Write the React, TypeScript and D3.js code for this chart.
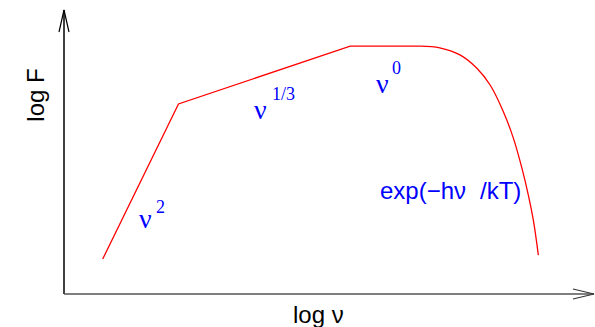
import React, { useEffect, useRef } from "react";
import * as d3 from "d3";

// broken power law spectrum (arbitrary log units 0..100)
const powerLawX = [7.3, 21.6, 54.0, 67.2];
const powerLawY = [12.3, 66.9, 87.3, 87.3];

// exponential cutoff
const cutoffX = [67.2, 70.9, 74.7, 77.9, 80.4, 82.9, 84.8, 86.4, 87.6, 88.6, 89.5];
const cutoffY = [87.3, 86.7, 84.2, 79.5, 73.6, 64.2, 54.8, 44.3, 34.9, 25.5, 13.7];

const axisLabels = ["log \u03bd", "log F"];

const W = 595;
const H = 327;

export default function App() {
	const ref = useRef<SVGSVGElement>(null);

	useEffect(() => {
		const svg = d3.select(ref.current);
		svg.selectAll("*").remove();

		const x = d3.scaleLinear().domain([0, 100]).range([64, 594]);
		const y = d3.scaleLinear().domain([0, 100]).range([294, 10]);

		// axes with open arrow heads
		svg.append("line")
			.attr("x1", x(0)).attr("y1", y(0))
			.attr("x2", x(0)).attr("y2", y(100))
			.attr("stroke", "#000").attr("stroke-width", 1.5);
		svg.append("path")
			.attr("d", `M${x(0) - 5},${y(100) + 22}L${x(0)},${y(100)}L${x(0) + 5},${y(100) + 22}`)
			.attr("fill", "none").attr("stroke", "#000").attr("stroke-width", 1.2);

		svg.append("line")
			.attr("x1", x(0)).attr("y1", y(0))
			.attr("x2", x(100)).attr("y2", y(0))
			.attr("stroke", "#555").attr("stroke-width", 1.6);
		svg.append("path")
			.attr("d", `M${x(100) - 21},${y(0) - 5}L${x(100)},${y(0)}L${x(100) - 21},${y(0) + 5}`)
			.attr("fill", "none").attr("stroke", "#333").attr("stroke-width", 1.2);

		const straight = d3.line<number>()
			.x((d, i) => x(powerLawX[i]))
			.y((d) => y(d));
		const smooth = d3.line<number>()
			.x((d, i) => x(cutoffX[i]))
			.y((d) => y(d))
			.curve(d3.curveCatmullRom.alpha(0.5));

		svg.append("path")
			.attr("d", straight(powerLawY))
			.attr("fill", "none").attr("stroke", "#f00").attr("stroke-width", 1.3);
		svg.append("path")
			.attr("d", smooth(cutoffY))
			.attr("fill", "none").attr("stroke", "#f00").attr("stroke-width", 1.3);

		// axis titles
		svg.append("text")
			.attr("x", 293).attr("y", 323)
			.attr("font-family", "Liberation Sans, Arial, sans-serif")
			.attr("font-size", 24)
			.text(axisLabels[0]);
		svg.append("text")
			.attr("transform", "translate(44,95) rotate(-90)")
			.attr("text-anchor", "middle")
			.attr("font-family", "Liberation Sans, Arial, sans-serif")
			.attr("font-size", 24)
			.text(axisLabels[1]);

		// slope labels
		const nu = (px: number, py: number, sx: number, sy: number, sup: string) => {
			svg.append("text")
				.attr("x", px).attr("y", py)
				.attr("font-family", "Liberation Serif, Times New Roman, serif")
				.attr("font-size", 28)
				.attr("fill", "#00f")
				.text("\u03bd");
			svg.append("text")
				.attr("x", sx).attr("y", sy)
				.attr("font-family", "Liberation Serif, Times New Roman, serif")
				.attr("font-size", 18)
				.attr("fill", "#00f")
				.text(sup);
		};
		nu(139, 228, 156, 213, "2");
		nu(254, 119, 272, 100, "1/3");
		nu(376, 93, 392, 74, "0");

		const t = svg.append("text")
			.attr("x", 380).attr("y", 199)
			.attr("font-family", "Liberation Sans, Arial, sans-serif")
			.attr("font-size", 24)
			.attr("fill", "#00f");
		t.append("tspan").text("exp(\u2212h\u03bd");
		t.append("tspan").attr("x", 480).text("/kT)");
	}, []);

	return (
		<svg
			ref={ref}
			width={W}
			height={H}
			style={{ position: "absolute", left: 0, top: 0, background: "#fff" }}
		/>
	);
}
